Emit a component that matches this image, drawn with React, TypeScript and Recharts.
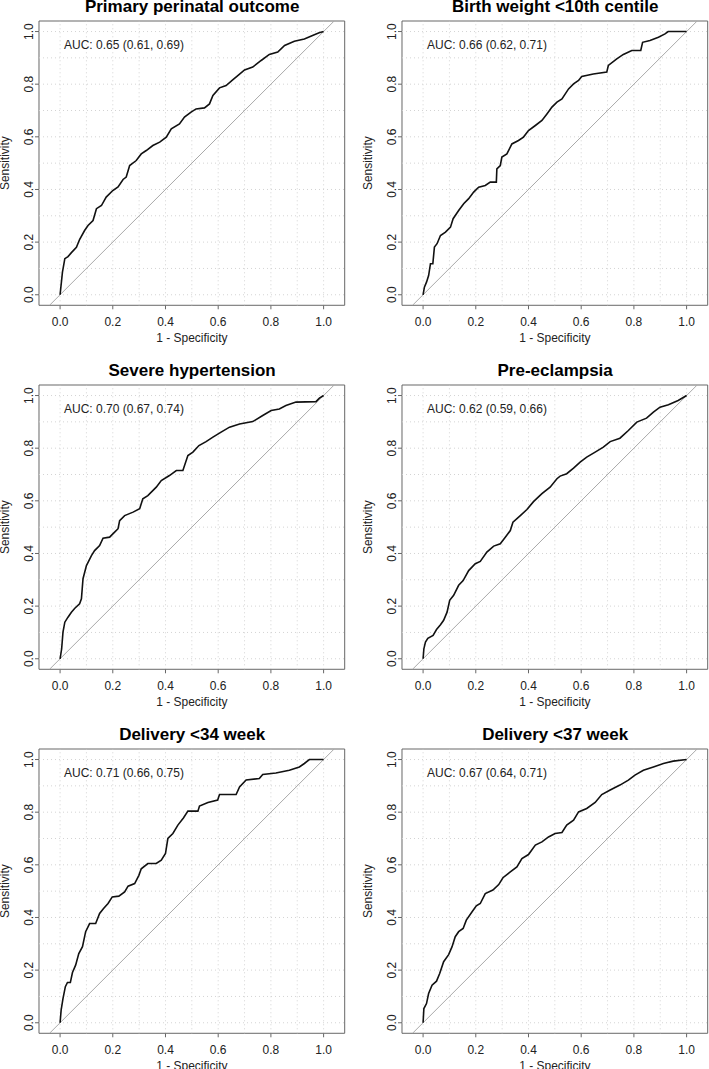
import React from 'react';
import { LineChart, Line, XAxis, YAxis, ReferenceLine, ReferenceArea, ReferenceDot, Label } from 'recharts';

type Pt = { x: number; y: number };

const titles = [
  'Primary perinatal outcome',
  'Birth weight <10th centile',
  'Severe hypertension',
  'Pre-eclampsia',
  'Delivery <34 week',
  'Delivery <37 week',
];

const aucLabels = [
  'AUC: 0.65 (0.61, 0.69)',
  'AUC: 0.66 (0.62, 0.71)',
  'AUC: 0.70 (0.67, 0.74)',
  'AUC: 0.62 (0.59, 0.66)',
  'AUC: 0.71 (0.66, 0.75)',
  'AUC: 0.67 (0.64, 0.71)',
];

const axisTicks = [0, 0.2, 0.4, 0.6, 0.8, 1.0];
const gridValues = [0, 0.1, 0.2, 0.3, 0.4, 0.5, 0.6, 0.7, 0.8, 0.9, 1.0];
const diagonal: Pt[] = [{ x: -0.04, y: -0.04 }, { x: 1.04, y: 1.04 }];

const rocPrimary: Pt[] = [
  { x: 0, y: 0 }, { x: 0.009, y: 0.086 }, { x: 0.018, y: 0.137 }, { x: 0.03, y: 0.145 }, { x: 0.043, y: 0.16 },
  { x: 0.062, y: 0.18 }, { x: 0.074, y: 0.21 }, { x: 0.093, y: 0.244 }, { x: 0.106, y: 0.263 }, { x: 0.125, y: 0.282 },
  { x: 0.138, y: 0.327 }, { x: 0.157, y: 0.339 }, { x: 0.175, y: 0.371 }, { x: 0.2, y: 0.396 }, { x: 0.22, y: 0.41 },
  { x: 0.239, y: 0.438 }, { x: 0.251, y: 0.447 }, { x: 0.264, y: 0.491 }, { x: 0.289, y: 0.51 }, { x: 0.308, y: 0.535 },
  { x: 0.327, y: 0.548 }, { x: 0.352, y: 0.567 }, { x: 0.378, y: 0.58 }, { x: 0.403, y: 0.599 }, { x: 0.422, y: 0.63 },
  { x: 0.453, y: 0.649 }, { x: 0.472, y: 0.675 }, { x: 0.497, y: 0.694 }, { x: 0.516, y: 0.706 }, { x: 0.548, y: 0.71 },
  { x: 0.567, y: 0.725 }, { x: 0.58, y: 0.757 }, { x: 0.605, y: 0.786 }, { x: 0.63, y: 0.795 }, { x: 0.655, y: 0.816 },
  { x: 0.68, y: 0.837 }, { x: 0.7, y: 0.854 }, { x: 0.731, y: 0.865 }, { x: 0.763, y: 0.89 }, { x: 0.794, y: 0.913 },
  { x: 0.826, y: 0.922 }, { x: 0.852, y: 0.947 }, { x: 0.889, y: 0.963 }, { x: 0.927, y: 0.972 }, { x: 0.958, y: 0.985 },
  { x: 0.983, y: 0.995 }, { x: 1, y: 1 },
];

const rocBirthWeight: Pt[] = [
  { x: 0, y: 0 }, { x: 0.005, y: 0.029 }, { x: 0.013, y: 0.048 }, { x: 0.021, y: 0.073 }, { x: 0.028, y: 0.118 },
  { x: 0.037, y: 0.118 }, { x: 0.043, y: 0.181 }, { x: 0.053, y: 0.194 }, { x: 0.066, y: 0.225 }, { x: 0.085, y: 0.238 },
  { x: 0.104, y: 0.257 }, { x: 0.114, y: 0.289 }, { x: 0.135, y: 0.32 }, { x: 0.154, y: 0.346 }, { x: 0.173, y: 0.365 },
  { x: 0.192, y: 0.39 }, { x: 0.211, y: 0.409 }, { x: 0.236, y: 0.415 }, { x: 0.255, y: 0.428 }, { x: 0.278, y: 0.428 },
  { x: 0.28, y: 0.478 }, { x: 0.293, y: 0.491 }, { x: 0.299, y: 0.523 }, { x: 0.318, y: 0.535 }, { x: 0.337, y: 0.573 },
  { x: 0.362, y: 0.586 }, { x: 0.381, y: 0.599 }, { x: 0.4, y: 0.624 }, { x: 0.426, y: 0.643 }, { x: 0.451, y: 0.662 },
  { x: 0.47, y: 0.687 }, { x: 0.489, y: 0.713 }, { x: 0.508, y: 0.732 }, { x: 0.527, y: 0.744 }, { x: 0.552, y: 0.782 },
  { x: 0.571, y: 0.801 }, { x: 0.59, y: 0.814 }, { x: 0.602, y: 0.829 }, { x: 0.646, y: 0.839 }, { x: 0.697, y: 0.846 },
  { x: 0.703, y: 0.871 }, { x: 0.735, y: 0.896 }, { x: 0.76, y: 0.913 }, { x: 0.792, y: 0.928 }, { x: 0.826, y: 0.928 },
  { x: 0.833, y: 0.959 }, { x: 0.861, y: 0.966 }, { x: 0.893, y: 0.978 }, { x: 0.918, y: 0.991 }, { x: 0.93, y: 1.0 },
  { x: 1, y: 1 },
];

const rocSevereHt: Pt[] = [
  { x: 0, y: 0 }, { x: 0.006, y: 0.038 }, { x: 0.011, y: 0.101 }, { x: 0.018, y: 0.139 }, { x: 0.03, y: 0.158 },
  { x: 0.043, y: 0.177 }, { x: 0.056, y: 0.192 }, { x: 0.074, y: 0.209 }, { x: 0.081, y: 0.228 }, { x: 0.087, y: 0.304 },
  { x: 0.1, y: 0.354 }, { x: 0.119, y: 0.392 }, { x: 0.131, y: 0.411 }, { x: 0.15, y: 0.43 }, { x: 0.163, y: 0.458 },
  { x: 0.188, y: 0.462 }, { x: 0.207, y: 0.481 }, { x: 0.22, y: 0.494 }, { x: 0.226, y: 0.525 }, { x: 0.245, y: 0.544 },
  { x: 0.277, y: 0.557 }, { x: 0.302, y: 0.57 }, { x: 0.314, y: 0.608 }, { x: 0.333, y: 0.62 }, { x: 0.365, y: 0.652 },
  { x: 0.384, y: 0.677 }, { x: 0.415, y: 0.696 }, { x: 0.441, y: 0.715 }, { x: 0.466, y: 0.715 }, { x: 0.485, y: 0.772 },
  { x: 0.504, y: 0.785 }, { x: 0.527, y: 0.81 }, { x: 0.554, y: 0.825 }, { x: 0.58, y: 0.842 }, { x: 0.611, y: 0.861 },
  { x: 0.643, y: 0.88 }, { x: 0.681, y: 0.892 }, { x: 0.731, y: 0.901 }, { x: 0.769, y: 0.924 }, { x: 0.801, y: 0.943 },
  { x: 0.832, y: 0.949 }, { x: 0.857, y: 0.962 }, { x: 0.895, y: 0.975 }, { x: 0.971, y: 0.977 }, { x: 0.984, y: 0.99 },
  { x: 1, y: 1 },
];

const rocPreEclampsia: Pt[] = [
  { x: 0, y: 0 }, { x: 0.003, y: 0.038 }, { x: 0.009, y: 0.063 }, { x: 0.018, y: 0.078 }, { x: 0.038, y: 0.089 },
  { x: 0.051, y: 0.111 }, { x: 0.066, y: 0.129 }, { x: 0.078, y: 0.146 }, { x: 0.091, y: 0.177 }, { x: 0.101, y: 0.222 },
  { x: 0.116, y: 0.241 }, { x: 0.135, y: 0.279 }, { x: 0.152, y: 0.297 }, { x: 0.173, y: 0.335 }, { x: 0.198, y: 0.361 },
  { x: 0.217, y: 0.37 }, { x: 0.242, y: 0.405 }, { x: 0.268, y: 0.428 }, { x: 0.293, y: 0.437 }, { x: 0.312, y: 0.462 },
  { x: 0.331, y: 0.487 }, { x: 0.341, y: 0.519 }, { x: 0.369, y: 0.544 }, { x: 0.394, y: 0.567 }, { x: 0.419, y: 0.597 },
  { x: 0.451, y: 0.627 }, { x: 0.482, y: 0.652 }, { x: 0.508, y: 0.684 }, { x: 0.52, y: 0.694 }, { x: 0.545, y: 0.703 },
  { x: 0.571, y: 0.724 }, { x: 0.596, y: 0.747 }, { x: 0.621, y: 0.766 }, { x: 0.653, y: 0.785 }, { x: 0.684, y: 0.804 },
  { x: 0.71, y: 0.825 }, { x: 0.747, y: 0.838 }, { x: 0.779, y: 0.867 }, { x: 0.811, y: 0.899 }, { x: 0.848, y: 0.914 },
  { x: 0.874, y: 0.937 }, { x: 0.899, y: 0.956 }, { x: 0.931, y: 0.965 }, { x: 0.968, y: 0.981 }, { x: 1, y: 1 },
];

const rocDelivery34: Pt[] = [
  { x: 0, y: 0 }, { x: 0.004, y: 0.048 }, { x: 0.011, y: 0.092 }, { x: 0.02, y: 0.137 }, { x: 0.028, y: 0.153 },
  { x: 0.039, y: 0.153 }, { x: 0.047, y: 0.191 }, { x: 0.059, y: 0.219 }, { x: 0.071, y: 0.263 }, { x: 0.085, y: 0.289 },
  { x: 0.097, y: 0.346 }, { x: 0.112, y: 0.377 }, { x: 0.135, y: 0.377 }, { x: 0.15, y: 0.415 }, { x: 0.165, y: 0.434 },
  { x: 0.182, y: 0.453 }, { x: 0.198, y: 0.478 }, { x: 0.223, y: 0.481 }, { x: 0.245, y: 0.497 }, { x: 0.258, y: 0.519 },
  { x: 0.283, y: 0.529 }, { x: 0.299, y: 0.56 }, { x: 0.308, y: 0.585 }, { x: 0.333, y: 0.605 }, { x: 0.365, y: 0.605 },
  { x: 0.384, y: 0.618 }, { x: 0.4, y: 0.643 }, { x: 0.409, y: 0.7 }, { x: 0.428, y: 0.719 }, { x: 0.447, y: 0.751 },
  { x: 0.468, y: 0.778 }, { x: 0.485, y: 0.804 }, { x: 0.523, y: 0.804 }, { x: 0.529, y: 0.823 }, { x: 0.561, y: 0.837 },
  { x: 0.598, y: 0.846 }, { x: 0.605, y: 0.867 }, { x: 0.668, y: 0.867 }, { x: 0.681, y: 0.896 }, { x: 0.706, y: 0.922 },
  { x: 0.756, y: 0.928 }, { x: 0.769, y: 0.943 }, { x: 0.819, y: 0.949 }, { x: 0.87, y: 0.959 }, { x: 0.908, y: 0.972 },
  { x: 0.927, y: 0.985 }, { x: 0.946, y: 1.0 }, { x: 1, y: 1 },
];

const rocDelivery37: Pt[] = [
  { x: 0, y: 0 }, { x: 0.003, y: 0.054 }, { x: 0.013, y: 0.073 }, { x: 0.021, y: 0.111 }, { x: 0.034, y: 0.143 },
  { x: 0.051, y: 0.158 }, { x: 0.063, y: 0.187 }, { x: 0.078, y: 0.232 }, { x: 0.097, y: 0.259 }, { x: 0.11, y: 0.289 },
  { x: 0.122, y: 0.327 }, { x: 0.135, y: 0.346 }, { x: 0.152, y: 0.358 }, { x: 0.164, y: 0.39 }, { x: 0.186, y: 0.422 },
  { x: 0.202, y: 0.444 }, { x: 0.217, y: 0.453 }, { x: 0.236, y: 0.491 }, { x: 0.265, y: 0.504 }, { x: 0.287, y: 0.525 },
  { x: 0.303, y: 0.551 }, { x: 0.331, y: 0.573 }, { x: 0.356, y: 0.592 }, { x: 0.375, y: 0.624 }, { x: 0.4, y: 0.639 },
  { x: 0.426, y: 0.675 }, { x: 0.451, y: 0.687 }, { x: 0.476, y: 0.706 }, { x: 0.501, y: 0.719 }, { x: 0.527, y: 0.723 },
  { x: 0.545, y: 0.751 }, { x: 0.571, y: 0.77 }, { x: 0.59, y: 0.801 }, { x: 0.621, y: 0.814 }, { x: 0.653, y: 0.837 },
  { x: 0.678, y: 0.867 }, { x: 0.71, y: 0.884 }, { x: 0.747, y: 0.903 }, { x: 0.779, y: 0.922 }, { x: 0.804, y: 0.941 },
  { x: 0.836, y: 0.959 }, { x: 0.874, y: 0.972 }, { x: 0.912, y: 0.985 }, { x: 0.949, y: 0.994 }, { x: 1, y: 1 },
];

const curves = [rocPrimary, rocBirthWeight, rocSevereHt, rocPreEclampsia, rocDelivery34, rocDelivery37];

const FONT = '"Liberation Sans", Arial, Helvetica, sans-serif';
const BOX_W = 305.7;
const BOX_H = 284.3;
const Y_AXIS_W = 40;
const X_AXIS_H = 40;
const M_TOP = 5;
const M_RIGHT = 5;
const M_BOTTOM = 5;
const colLefts = [39.3, 402.3];
const rowTops = [20.7, 385.3, 749.3];

const fmt = (v: number) => v.toFixed(1);

const YTick = (props: any) => {
  const { x, y, payload } = props;
  return (
    <text x={x} y={y} transform={`rotate(-90 ${x} ${y})`} textAnchor="middle" fontSize={12} fill="#222">
      {fmt(payload.value)}
    </text>
  );
};

function Panel({ idx }: { idx: number }) {
  const col = idx % 2;
  const row = Math.floor(idx / 2);
  const boxLeft = colLefts[col];
  const boxTop = rowTops[row];
  const width = Y_AXIS_W + BOX_W + M_RIGHT;
  const height = M_TOP + BOX_H + X_AXIS_H + M_BOTTOM;
  return (
    <>
      <div
        style={{
          position: 'absolute',
          left: boxLeft,
          top: boxTop - 21,
          width: BOX_W,
          height: 14,
          lineHeight: '14px',
          textAlign: 'center',
          fontFamily: FONT,
          fontWeight: 'bold',
          fontSize: 17,
          color: '#000',
          whiteSpace: 'nowrap',
        }}
      >
        {titles[idx]}
      </div>
      <div style={{ position: 'absolute', left: boxLeft - Y_AXIS_W, top: boxTop - M_TOP }}>
        <LineChart
          width={width}
          height={height}
          margin={{ top: M_TOP, right: M_RIGHT, bottom: M_BOTTOM, left: 0 }}
          style={{ fontFamily: FONT }}
        >
          <XAxis
            type="number"
            dataKey="x"
            domain={[-0.08, 1.08]}
            ticks={axisTicks}
            allowDataOverflow
            tickFormatter={fmt}
            axisLine={false}
            tickLine={{ stroke: '#666', strokeWidth: 1 }}
            tickSize={4}
            tickMargin={8}
            height={X_AXIS_H}
            tick={{ fontSize: 12, fill: '#222' }}
          >
            <Label value="1 - Specificity" position="insideBottom" offset={3} style={{ fontSize: 12, fill: '#222' }} />
          </XAxis>
          <YAxis
            type="number"
            dataKey="y"
            domain={[-0.04, 1.04]}
            ticks={axisTicks}
            allowDataOverflow
            axisLine={false}
            tickLine={{ stroke: '#666', strokeWidth: 1 }}
            tickSize={4}
            tickMargin={2}
            width={Y_AXIS_W}
            tick={<YTick />}
          >
            <Label
              value="Sensitivity"
              angle={-90}
              position="insideLeft"
              offset={6}
              style={{ fontSize: 12, fill: '#222', textAnchor: 'middle' }}
            />
          </YAxis>
          {gridValues.map((v) => (
            <ReferenceLine key={`gx${v}`} x={v} stroke="#d3d3d3" strokeDasharray="1 3" strokeWidth={1} />
          ))}
          {gridValues.map((v) => (
            <ReferenceLine key={`gy${v}`} y={v} stroke="#d3d3d3" strokeDasharray="1 3" strokeWidth={1} />
          ))}
          <ReferenceArea x1={-0.08} x2={1.08} y1={-0.04} y2={1.04} fill="none" stroke="#666" strokeWidth={1} ifOverflow="visible" />
          <ReferenceDot
            x={0.015}
            y={0.95}
            r={0}
            fill="none"
            stroke="none"
            label={{ value: aucLabels[idx], position: 'right', offset: 0, fontSize: 12, fill: '#222' }}
          />
          <Line data={diagonal} dataKey="y" type="linear" stroke="#a9a9a9" strokeWidth={1} dot={false} isAnimationActive={false} />
          <Line data={curves[idx]} dataKey="y" type="linear" stroke="#111" strokeWidth={1.6} dot={false} isAnimationActive={false} />
        </LineChart>
      </div>
    </>
  );
}

export default function App() {
  return (
    <div
      style={{
        position: 'absolute',
        left: 0,
        top: 0,
        width: 709,
        height: 1069,
        overflow: 'hidden',
        background: '#fff',
        fontFamily: FONT,
      }}
    >
      {[0, 1, 2, 3, 4, 5].map((i) => (
        <Panel key={i} idx={i} />
      ))}
    </div>
  );
}
